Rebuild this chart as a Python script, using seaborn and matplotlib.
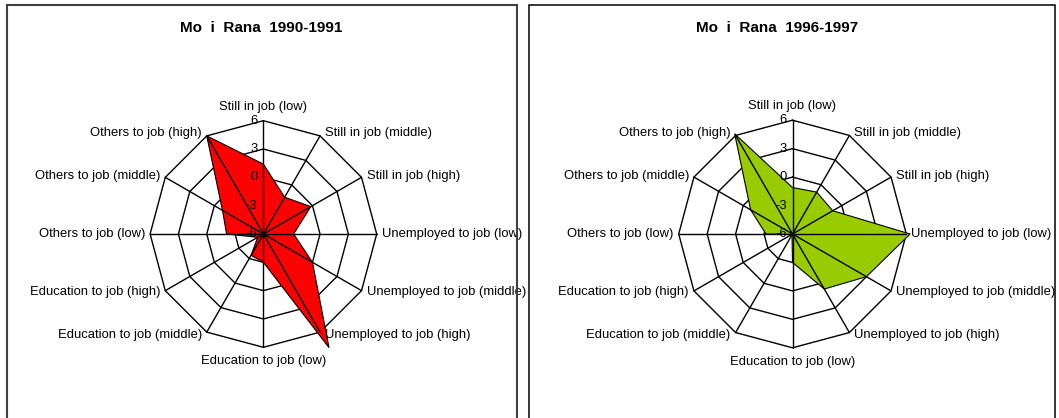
import numpy as np
import matplotlib
matplotlib.use("Agg")
import matplotlib.pyplot as plt
import seaborn as sns
from matplotlib.patches import Rectangle

# ---------------- data ----------------
categories = ["Still in job (low)", "Still in job (middle)", "Still in job (high)",
              "Unemployed to job (low)", "Unemployed to job (middle)", "Unemployed to job (high)",
              "Education to job (low)", "Education to job (middle)", "Education to job (high)",
              "Others to job (low)", "Others to job (middle)", "Others to job (high)"]
values_1990 = [1.4, -1.5, -0.2, -2.8, 0.0, 7.9, -3.0, -3.4, -5.3, -2.1, -1.0, 6.0]
values_1996 = [-1.1, -0.9, -1.1, 6.4, 3.0, 0.7, -3.0, -5.9, -5.9, -3.2, -0.9, 6.2]
titles = ["Mo  i  Rana  1990-1991", "Mo  i  Rana  1996-1997"]
r_ticks = [-6, -3, 0, 3, 6]
r_tick_labels = ["-6", "-3", "0", "3", "6"]

# ---------------- style ----------------
sns.set_style("white")
plt.rcParams["font.family"] = ["Liberation Sans", "DejaVu Sans"]
plt.rcParams["text.color"] = "black"
fill_colors = ["#FF0000", "#99CC00"]
LABEL_FS = 9.4
TITLE_FS = 11

W, H = 1059, 418
fig = plt.figure(figsize=(W / 100, H / 100), dpi=100)


def px_box(cx, cy, r):
    return [(cx - r) / W, (H - cy - r) / H, 2 * r / W, 2 * r / H]


def panel_rect(x0, x1, y0, y1, color, lw):
    rect = Rectangle((x0 / W, 1 - y1 / H), (x1 - x0) / W, (y1 - y0) / H,
                     transform=fig.transFigure, fill=False, edgecolor=color,
                     linewidth=lw, clip_on=False)
    fig.add_artist(rect)
    return rect


def radar(ax, values, color, clip_rect=None):
    n = len(categories)
    theta = np.linspace(0, 2 * np.pi, n, endpoint=False)
    ax.set_theta_offset(np.pi / 2)
    ax.set_theta_direction(-1)
    ax.set_ylim(r_ticks[0], r_ticks[-1])
    ax.grid(False)
    ax.set_xticks([])
    ax.set_yticks([])
    ax.spines["polar"].set_visible(False)
    ax.patch.set_alpha(0)

    closed_t = np.append(theta, theta[0])
    for rv in r_ticks[1:]:
        ax.plot(closed_t, [rv] * (n + 1), color="black", lw=1.0, zorder=1, clip_on=False)

    vals = np.append(values, values[0])
    ax.fill(closed_t, vals, facecolor=color, edgecolor="black", lw=0.8,
            zorder=2, clip_on=False)

    for t in theta:
        ax.plot([t, t], [r_ticks[0], r_ticks[-1]], color="black", lw=1.0,
                zorder=3, clip_on=False)

    for rv, lab in zip(r_ticks, r_tick_labels):
        ax.annotate(lab, xy=(0, rv), xytext=(-6, 0), textcoords="offset pixels",
                    ha="right", va="center", fontsize=LABEL_FS, zorder=5,
                    color="black", annotation_clip=False)

    for t, cat in zip(theta, categories):
        s, c = np.sin(t), np.cos(t)
        if abs(s) < 1e-6:
            dx, dy, ha = 0, 14 * np.sign(c), "center"
        else:
            dx, dy = 5 * np.sign(s), 3 * c
            ha = "left" if s > 0 else "right"
        a = ax.annotate(cat, xy=(t, r_ticks[-1]), xytext=(dx, dy),
                        textcoords="offset pixels", ha=ha, va="center",
                        fontsize=LABEL_FS, color="black", annotation_clip=False)
        if clip_rect is not None:
            a.set_clip_on(True)
            a.set_clip_path(clip_rect)


rect_left = panel_rect(7, 517, 5, 440, "#404040", 1.5)
rect_right = panel_rect(528.7, 1055, 5, 440, "black", 1.1)

ax1 = fig.add_axes(px_box(263.4, 234.0, 113.3), projection="polar")
radar(ax1, values_1990, fill_colors[0])
ax2 = fig.add_axes(px_box(792.5, 234.0, 113.8), projection="polar")
radar(ax2, values_1996, fill_colors[1], clip_rect=rect_right)

fig.text(261.3 / W, 1 - 27.5 / H, titles[0], ha="center", va="center",
         fontsize=TITLE_FS, fontweight="bold", color="black")
fig.text(776.8 / W, 1 - 27.5 / H, titles[1], ha="center", va="center",
         fontsize=TITLE_FS, fontweight="bold", color="black")

fig.savefig("out.png", dpi=100)
